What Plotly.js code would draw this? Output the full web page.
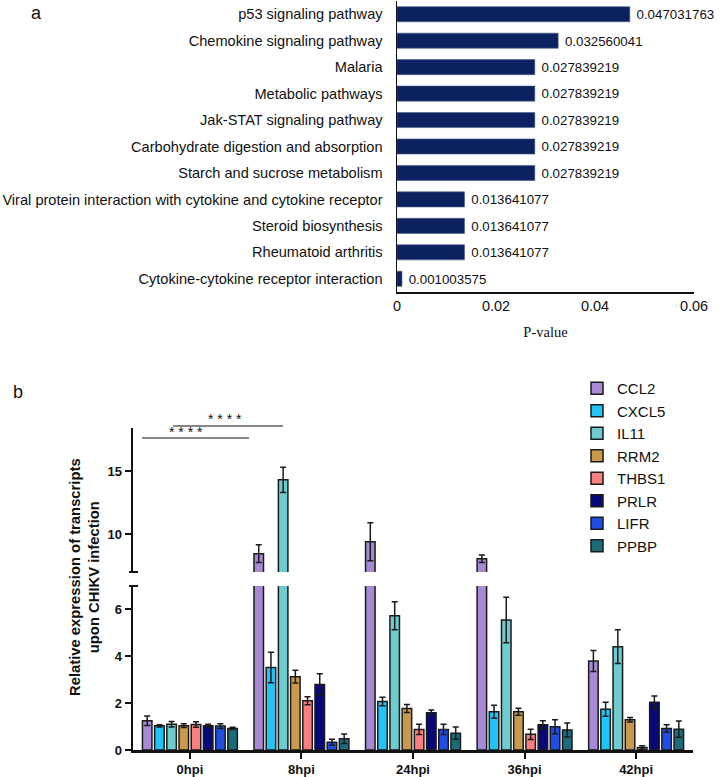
<!DOCTYPE html>
<html>
<head>
<meta charset="utf-8">
<script src="https://cdn.plot.ly/plotly-3.0.1.min.js"></script>
<style>
  html, body { margin: 0; padding: 0; background: #fff; }
  #chart { width: 724px; height: 777px; }
</style>
</head>
<body>
<div id="chart"></div>
<script>
// panel a: KEGG pathways (top to bottom) and their p-values
const PATHWAYS = [
    'p53 signaling pathway',
    'Chemokine signaling pathway',
    'Malaria',
    'Metabolic pathways',
    'Jak-STAT signaling pathway',
    'Carbohydrate digestion and absorption',
    'Starch and sucrose metabolism',
    'Viral protein interaction with cytokine and cytokine receptor',
    'Steroid biosynthesis',
    'Rheumatoid arthritis',
    'Cytokine-cytokine receptor interaction',
];
const PVALUES = [
    0.047031763, 0.032560041, 0.027839219, 0.027839219, 0.027839219,
    0.027839219, 0.027839219, 0.013641077, 0.013641077, 0.013641077,
    0.001003575,
];

// panel b: qPCR relative expression, per gene across time points
const TIMEPOINTS = ['0hpi', '8hpi', '24hpi', '36hpi', '42hpi'];
const GENES  = ['CCL2', 'CXCL5', 'IL11', 'RRM2', 'THBS1', 'PRLR', 'LIFR', 'PPBP'];
const COLORS = ['#a88ad4', '#22c3f5', '#6ecbd0', '#c99a4e', '#f97f7f', '#08087a', '#1f4de6', '#1b6c78'];

const CCL2  = [1.25, 8.45, 9.4, 8.05, 3.8];
const CXCL5 = [1.03, 3.52, 2.07, 1.63, 1.74];
const IL11  = [1.1, 14.3, 5.73, 5.55, 4.41];
const RRM2  = [1.04, 3.13, 1.77, 1.63, 1.29];
const THBS1 = [1.09, 2.1, 0.88, 0.67, 0.11];
const PRLR  = [1.03, 2.8, 1.59, 1.08, 2.04];
const LIFR  = [1.02, 0.33, 0.88, 0.99, 0.92];
const PPBP  = [0.92, 0.48, 0.72, 0.85, 0.89];

const CCL2_ERR  = [0.2, 0.7, 1.5, 0.3, 0.45];
const CXCL5_ERR = [0.05, 0.65, 0.18, 0.28, 0.3];
const IL11_ERR  = [0.12, 1.0, 0.6, 0.97, 0.72];
const RRM2_ERR  = [0.08, 0.27, 0.17, 0.15, 0.1];
const THBS1_ERR = [0.12, 0.17, 0.22, 0.22, 0.07];
const PRLR_ERR  = [0.07, 0.45, 0.12, 0.17, 0.27];
const LIFR_ERR  = [0.1, 0.13, 0.22, 0.3, 0.16];
const PPBP_ERR  = [0.05, 0.2, 0.26, 0.3, 0.35];

const VALUES = [CCL2, CXCL5, IL11, RRM2, THBS1, PRLR, LIFR, PPBP];
const ERRORS = [CCL2_ERR, CXCL5_ERR, IL11_ERR, RRM2_ERR, THBS1_ERR, PRLR_ERR, LIFR_ERR, PPBP_ERR];

const SANS = 'Liberation Sans, Arial, sans-serif';
const W = 724, H = 777;
const px = x => x / W;          // pixel -> paper helpers for decorations
const py = y => (H - y) / H;

const data = [{
    type: 'bar', orientation: 'h',
    x: PVALUES, y: PATHWAYS,
    xaxis: 'x', yaxis: 'y',
    width: 0.57,
    marker: { color: '#0c2260', line: { color: '#4a5a8a', width: 0.6 } },
    text: PVALUES.map(v => '\u00a0' + v.toFixed(9)),
    textposition: 'outside',
    textfont: { family: SANS, size: 15, color: '#111' },
    cliponaxis: false,
    showlegend: false,
    hoverinfo: 'x+y',
}];

// broken y-axis: same bars drawn on the lower (0-7) and upper (7-18.4) axes
['y2', 'y3'].forEach(ya => {
    GENES.forEach((g, i) => {
        data.push({
            type: 'bar',
            x: TIMEPOINTS, y: VALUES[i],
            xaxis: 'x2', yaxis: ya,
            name: g, legendgroup: g,
            showlegend: ya === 'y2',
            marker: { color: COLORS[i], line: { color: '#1a1a1a', width: 1.5 } },
            error_y: { type: 'data', array: ERRORS[i], color: '#1a1a1a', thickness: 1.5, width: 3 },
        });
    });
});

const axisCommon = {
    showline: true, linecolor: '#111', zeroline: false, showgrid: false,
};

const note = (text, x, y, font, extra) => ({
    text, x, y, xref: 'paper', yref: 'paper', xanchor: 'center', yanchor: 'middle',
    showarrow: false, font, ...extra,
});

const layout = {
    width: W, height: H,
    margin: { l: 0, r: 0, t: 0, b: 0 },
    paper_bgcolor: '#fff', plot_bgcolor: '#fff',
    font: { family: SANS, color: '#111', size: 14 },
    barmode: 'group', bargap: 0.125, bargroupgap: 0.22,
    xaxis: {
        ...axisCommon, linewidth: 1.5,
        domain: [px(397), px(694)], anchor: 'y',
        range: [0, 0.06], dtick: 0.02, tick0: 0,
        ticks: '', tickfont: { size: 14.5 },
        title: { text: 'P-value', font: { family: 'Liberation Serif, Times New Roman, serif', size: 14.5 }, standoff: 14 },
    },
    yaxis: {
        ...axisCommon, linewidth: 1.5,
        domain: [py(292), py(1)], anchor: 'x',
        type: 'category', autorange: 'reversed',
        ticks: '', ticklabelstandoff: 10, tickfont: { size: 14.6 },
    },
    xaxis2: {
        ...axisCommon, linewidth: 2.5,
        domain: [px(133), px(693)], anchor: 'y2',
        type: 'category', range: [-0.51, 4.51],
        ticks: 'outside', ticklen: 6, tickwidth: 2, tickcolor: '#111',
        tickfont: { size: 13, weight: 'bold' },
    },
    yaxis2: {
        ...axisCommon, linewidth: 2.5,
        domain: [py(750), py(586)], anchor: 'x2',
        range: [0, 7], tickvals: [0, 2, 4, 6],
        ticks: 'outside', ticklen: 6, tickwidth: 2, tickcolor: '#111',
        tickfont: { size: 13, weight: 'bold' },
    },
    yaxis3: {
        ...axisCommon, linewidth: 2.5,
        domain: [py(572), py(428)], anchor: 'x2',
        range: [7, 18.4], tickvals: [10, 15],
        ticks: 'outside', ticklen: 6, tickwidth: 2, tickcolor: '#111',
        tickfont: { size: 13, weight: 'bold' },
    },
    legend: {
        x: px(577), y: py(372), xanchor: 'left', yanchor: 'top',
        font: { size: 15, color: '#111' },
        bgcolor: 'rgba(0,0,0,0)',
        traceorder: 'normal',
    },
    annotations: [
        note('a', px(36), py(13), { size: 18 }),
        note('b', px(18), py(392), { size: 18 }),
        note('Relative expression of transcripts<br>upon CHIKV infection', px(84), py(577), { size: 14.8, weight: 'bold' }, { textangle: -90 }),
        note('* * * *', px(186), py(432), { size: 14 }),
        note('* * * *', px(225), py(419), { size: 14 }),
    ],
    shapes: [
        { type: 'line', xref: 'paper', yref: 'paper', x0: px(142), x1: px(249), y0: py(438), y1: py(438), line: { color: '#111', width: 1 } },
        { type: 'line', xref: 'paper', yref: 'paper', x0: px(173), x1: px(283), y0: py(426), y1: py(426), line: { color: '#111', width: 1 } },
        { type: 'line', xref: 'paper', yref: 'paper', x0: px(129), x1: px(138), y0: py(572), y1: py(572), line: { color: '#111', width: 2 } },
        { type: 'line', xref: 'paper', yref: 'paper', x0: px(129), x1: px(138), y0: py(586), y1: py(586), line: { color: '#111', width: 2 } },
    ],
};

Plotly.newPlot('chart', data, layout, { displayModeBar: false, staticPlot: true });
</script>
</body>
</html>
